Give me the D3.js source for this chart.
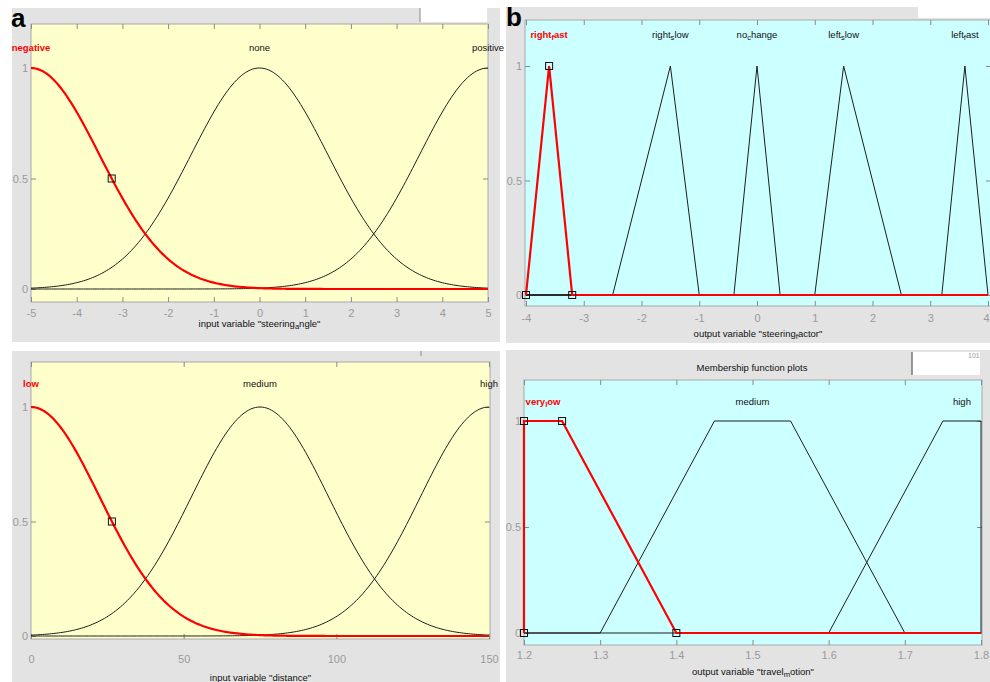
<!DOCTYPE html>
<meta charset='utf-8'>
<style>
  body { margin:0; background:#fff; }
  text { font-family:'Liberation Sans Narrow','Liberation Sans',Arial,sans-serif; }
</style>
<body>
<script src='https://d3js.org/d3.v7.min.js'></script>
<script>

// input variable "steering_angle" (gaussian MFs)
var angleTicks = [-5,-4,-3,-2,-1,0,1,2,3,4,5];
var angleNames = ['negative','none','positive'];
var angleCenters = [-5,0,5];
var angleSigmas = [1.5,1.5,1.5];

// output variable "steering_factor" (triangular MFs)
var factorTicks = [-4,-3,-2,-1,0,1,2,3,4];
var factorNames = ['right_fast','right_slow','no_change','left_slow','left_fast'];
var factorParams = [[-4,-3.6,-3.2],[-2.5,-1.5,-1],[-0.4,0,0.4],[1,1.5,2.5],[3.2,3.6,4]];

// input variable "distance" (gaussian MFs)
var distanceTicks = [0,50,100,150];
var distanceNames = ['low','medium','high'];
var distanceCenters = [0,75,150];
var distanceSigmas = [22.5,22.5,22.5];

// output variable "travel_motion" (trapezoidal MFs)
var motionTicks = [1.2,1.3,1.4,1.5,1.6,1.7,1.8];
var motionNames = ['very_low','medium','high'];
var motionParams = [[1.2,1.2,1.25,1.4],[1.3,1.45,1.55,1.7],[1.6,1.75,1.8,1.8]];

var yTicks = [0,0.5,1];

var svg = d3.select('body').append('svg')
  .attr('width',990)
  .attr('height',682);

// MATLAB style text: "a_bc" -> a + subscript b + c
function texText(sel, str) {
  var parts = str.split('_');
  sel.append('tspan').text(parts[0]);
  parts.slice(1).forEach(function(p) {
    sel.append('tspan').attr('dy',3).attr('font-size','0.8em').text(p.charAt(0));
    sel.append('tspan').attr('dy',-3).text(p.slice(1));
  });
}

function gaussPoints(c, s, dom) {
  var n = 200, step = (dom[1]-dom[0])/n;
  return d3.range(n+1).map(function(i) {
    var v = dom[0] + i*step;
    return [v, Math.exp(-(v-c)*(v-c)/(2*s*s))];
  });
}

function polyPoints(p, dom) {
  var pts = [[dom[0],0]];
  if (p.length == 3) pts.push([p[0],0],[p[1],1],[p[2],0]);
  else pts.push([p[0],0],[p[1],1],[p[2],1],[p[3],0]);
  pts.push([dom[1],0]);
  return pts;
}

var fmt = function(d) { return String(d); };

function panel(cfg) {
  var g = svg.append('g');
  g.append('rect')
    .attr('x',cfg.box[0]).attr('y',cfg.box[1])
    .attr('width',cfg.box[2]).attr('height',cfg.box[3])
    .attr('fill','#e3e3e3');
  g.append('rect')
    .attr('x',cfg.plot[0]).attr('y',cfg.plot[1])
    .attr('width',cfg.plot[2]).attr('height',cfg.plot[3])
    .attr('fill',cfg.bg).attr('stroke','#a8a8a8').attr('stroke-width',1);

  var x = d3.scaleLinear().domain(cfg.domain).range(cfg.xr);
  var y = d3.scaleLinear().domain([0,1]).range(cfg.yr);
  var bottom = cfg.plot[1] + cfg.plot[3];
  var right = cfg.plot[0] + cfg.plot[2];

  var ax = g.append('g')
    .attr('transform','translate(0,'+bottom+')')
    .call(d3.axisBottom(x).tickValues(cfg.ticks).tickSize(-5).tickPadding(cfg.tickPad).tickFormat(fmt));
  // last label sits against the window edge
  ax.selectAll('.tick:last-of-type text').attr('dx', cfg.lastShift || 0);
  g.append('g')
    .attr('transform','translate(0,'+cfg.plot[1]+')')
    .call(d3.axisTop(x).tickValues(cfg.ticks).tickSize(-5).tickFormat(''));
  g.append('g')
    .attr('transform','translate('+cfg.plot[0]+',0)')
    .call(d3.axisLeft(y).tickValues(yTicks).tickSize(-5).tickPadding(3).tickFormat(fmt));
  g.append('g')
    .attr('transform','translate('+right+',0)')
    .call(d3.axisRight(y).tickValues(yTicks).tickSize(-5).tickFormat(''));
  g.selectAll('.domain').remove();
  g.selectAll('.tick line').attr('stroke','#8a8a8a');
  g.selectAll('.tick text').attr('fill','#9a9a9a').attr('font-size',11)
    .attr('font-family',"'Liberation Sans Narrow','Liberation Sans',Arial,sans-serif");

  var line = d3.line().x(function(d){return x(d[0]);}).y(function(d){return y(d[1]);});

  // unselected MFs first, selected (red) on top
  cfg.curves.forEach(function(pts, i) {
    if (i == cfg.sel) return;
    g.append('path').attr('d',line(pts)).attr('fill','none')
      .attr('stroke','#1e1e1e').attr('stroke-width',1);
  });
  g.append('path').attr('d',line(cfg.curves[cfg.sel])).attr('fill','none')
    .attr('stroke','#f00').attr('stroke-width',2.2);

  cfg.markers.forEach(function(m) {
    g.append('rect')
      .attr('x',x(m[0])-3.5).attr('y',y(m[1])-3.5)
      .attr('width',7).attr('height',7)
      .attr('fill','none').attr('stroke','#111').attr('stroke-width',1);
  });

  cfg.names.forEach(function(n, i) {
    var t = g.append('text')
      .attr('x',x(cfg.labelAt[i])).attr('y',cfg.labelY)
      .attr('text-anchor','middle').attr('dominant-baseline','central')
      .attr('font-size',9.5)
      .attr('fill', i == cfg.sel ? '#f00' : '#111')
      .attr('font-weight', i == cfg.sel ? 'bold' : 'normal');
    texText(t, n);
  });

  var tt = g.append('text')
    .attr('x',(cfg.plot[0]+right)/2).attr('y',cfg.titleY)
    .attr('text-anchor','middle').attr('dominant-baseline','central')
    .attr('font-size',9.5).attr('fill','#111');
  texText(tt, cfg.title);
  return g;
}

// a: steering angle
var dA = [-5,5];
panel({
  box:[12,8,488,334], plot:[31,24,457,278], bg:'#ffffcc',
  domain:dA, xr:[31,488], yr:[289,68], ticks:angleTicks, tickPad:7,
  curves: angleCenters.map(function(c,i){ return gaussPoints(c, angleSigmas[i], dA); }),
  sel:0,
  markers:[[angleCenters[0] + angleSigmas[0]*Math.sqrt(2*Math.LN2), 0.5]],
  names:angleNames, labelAt:angleCenters, labelY:47,
  title:'input variable "steering_angle"', titleY:323
});

// b: steering factor
var dB = [-4,4];
panel({
  box:[506,7,484,336], plot:[525,20,466,286], bg:'#ccffff',
  domain:dB, xr:[526,988], yr:[295,66], ticks:factorTicks, tickPad:8, lastShift:-2,
  curves: factorParams.map(function(p){ return polyPoints(p, dB); }),
  sel:0,
  markers: factorParams[0].map(function(v,i){ return [v, i == 1 ? 1 : 0]; }),
  names:factorNames, labelAt:factorParams.map(function(p){ return p[1]; }), labelY:34,
  title:'output variable "steering_factor"', titleY:333
});

// c: distance
var dC = [0,150];
panel({
  box:[12,351,488,331], plot:[31,362,459,277], bg:'#ffffcc',
  domain:dC, xr:[31,489], yr:[636,407], ticks:distanceTicks, tickPad:16,
  curves: distanceCenters.map(function(c,i){ return gaussPoints(c, distanceSigmas[i], dC); }),
  sel:0,
  markers:[[distanceCenters[0] + distanceSigmas[0]*Math.sqrt(2*Math.LN2), 0.5]],
  names:distanceNames, labelAt:distanceCenters, labelY:383,
  title:'input variable "distance"', titleY:677
});

// d: travel motion
var dD = [1.2,1.8];
panel({
  box:[506,350,484,332], plot:[524,380,458,265], bg:'#ccffff',
  domain:dD, xr:[524,981], yr:[633,421], ticks:motionTicks, tickPad:6,
  curves: motionParams.map(function(p){ return polyPoints(p, dD); }),
  sel:0,
  markers: motionParams[0].map(function(v,i){ return [v, (i == 1 || i == 2) ? 1 : 0]; }),
  names:motionNames, labelAt:motionParams.map(function(p){ return (p[1]+p[2])/2; }), labelY:401,
  title:'output variable "travel_motion"', titleY:671
});

// window bits
svg.append('rect').attr('x',420).attr('y',8).attr('width',67).attr('height',14).attr('fill','#fff');
svg.append('line').attr('x1',420).attr('x2',420).attr('y1',8).attr('y2',22).attr('stroke','#888');
svg.append('rect').attr('x',918).attr('y',0).attr('width',72).attr('height',18).attr('fill','#fff');
svg.append('line').attr('x1',421).attr('x2',421).attr('y1',351).attr('y2',356).attr('stroke','#888');
svg.append('rect').attr('x',912).attr('y',352).attr('width',68).attr('height',23).attr('fill','#fff');
svg.append('line').attr('x1',912).attr('x2',912).attr('y1',352).attr('y2',375).attr('stroke','#777').attr('stroke-width',1.5);
svg.append('text').attr('x',968).attr('y',355).attr('font-size',7).attr('fill','#999')
  .attr('dominant-baseline','central').text('101');
svg.append('text').attr('x',752).attr('y',367).attr('text-anchor','middle')
  .attr('dominant-baseline','central').attr('font-size',9.5).attr('fill','#111')
  .text('Membership function plots');

// panel letters
svg.append('text').attr('x',11).attr('y',27).attr('font-size',26).attr('font-weight','bold')
  .attr('font-family','Arial,Liberation Sans,sans-serif').text('a');
svg.append('text').attr('x',506).attr('y',26).attr('font-size',26).attr('font-weight','bold')
  .attr('font-family','Arial,Liberation Sans,sans-serif').text('b');
</script>
</body>
